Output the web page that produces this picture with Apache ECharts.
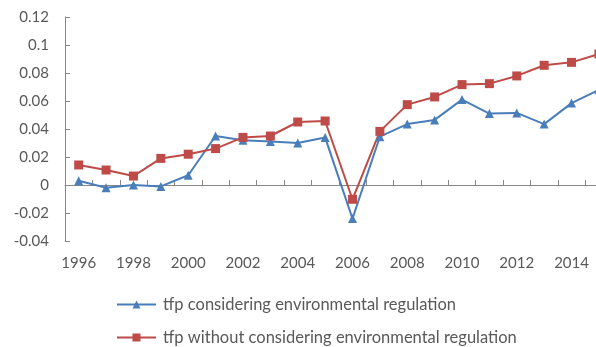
<!DOCTYPE html>
<html>
<head>
<meta charset="utf-8">
<script src="https://cdn.jsdelivr.net/npm/echarts@6/dist/echarts.min.js"></script>
<style>
  html, body { margin: 0; padding: 0; background: #fff; overflow: hidden; width: 596px; height: 347px; }
  #chart { width: 620px; height: 370px; }
</style>
</head>
<body>
<div id="chart"></div>
<script>
// Years on the category axis
const years = ['1996','1997','1998','1999','2000','2001','2002','2003','2004','2005',
               '2006','2007','2008','2009','2010','2011','2012','2013','2014','2015'];

// TFP growth with environmental regulation taken into account
const tfpWithRegulation = [0.003, -0.002, 0.000, -0.001, 0.007, 0.035, 0.032, 0.031, 0.030, 0.034,
                           -0.024, 0.0345, 0.0435, 0.0465, 0.061, 0.051, 0.0515, 0.0435, 0.0585, 0.068];

// TFP growth ignoring environmental regulation
const tfpWithoutRegulation = [0.0143, 0.0107, 0.0064, 0.019, 0.022, 0.026, 0.034, 0.035, 0.045, 0.0457,
                              -0.0102, 0.0383, 0.0574, 0.0629, 0.0717, 0.0724, 0.0779, 0.0855, 0.0876, 0.0936];

// Value axis range and step
const yMin = -0.04;
const yMax = 0.12;
const yStep = 0.02;

const seriesNames = ['tfp considering environmental regulation',
                     'tfp without considering environmental regulation'];

const FONT = 'Lato, "Open Sans", sans-serif';
const TEXT = '#595959';
const AXIS = '#868686';

const chart = echarts.init(document.getElementById('chart'), null, { renderer: 'canvas' });

chart.setOption({
  animation: false,
  backgroundColor: '#ffffff',
  grid: { left: 65, top: 17, width: 547.6, height: 224, containLabel: false },
  xAxis: {
    type: 'category',
    data: years,
    boundaryGap: true,
    axisLine: { lineStyle: { color: AXIS, width: 1 } },
    axisTick: { show: true, inside: true, length: 5, interval: 0, lineStyle: { color: AXIS } },
    axisLabel: { interval: 1, margin: 15, color: TEXT, fontSize: 15, fontFamily: FONT },
    splitLine: { show: false }
  },
  yAxis: {
    type: 'value',
    min: yMin,
    max: yMax,
    interval: yStep,
    axisLine: { show: true, lineStyle: { color: AXIS, width: 1 } },
    axisTick: { show: true, inside: true, length: 5, lineStyle: { color: AXIS } },
    axisLabel: { margin: 16, color: TEXT, fontSize: 15, fontFamily: FONT },
    splitLine: { show: false }
  },
  legend: {
    orient: 'vertical',
    left: 116,
    top: 296,
    padding: 0,
    itemWidth: 39,
    itemHeight: 10,
    itemGap: 16,
    textStyle: { color: TEXT, fontSize: 16.5, fontFamily: FONT, padding: [0, 0, 0, 2] },
    data: seriesNames
  },
  series: [
    {
      name: seriesNames[0],
      type: 'line',
      data: tfpWithRegulation,
      symbol: 'triangle',
      symbolSize: 9,
      color: '#4a7ebb',
      lineStyle: { width: 2, color: '#4a7ebb' },
      itemStyle: { color: '#4a7ebb' }
    },
    {
      name: seriesNames[1],
      type: 'line',
      data: tfpWithoutRegulation,
      symbol: 'rect',
      symbolSize: 9,
      color: '#be4b48',
      lineStyle: { width: 2, color: '#be4b48' },
      itemStyle: { color: '#be4b48' }
    }
  ]
});
</script>
</body>
</html>
